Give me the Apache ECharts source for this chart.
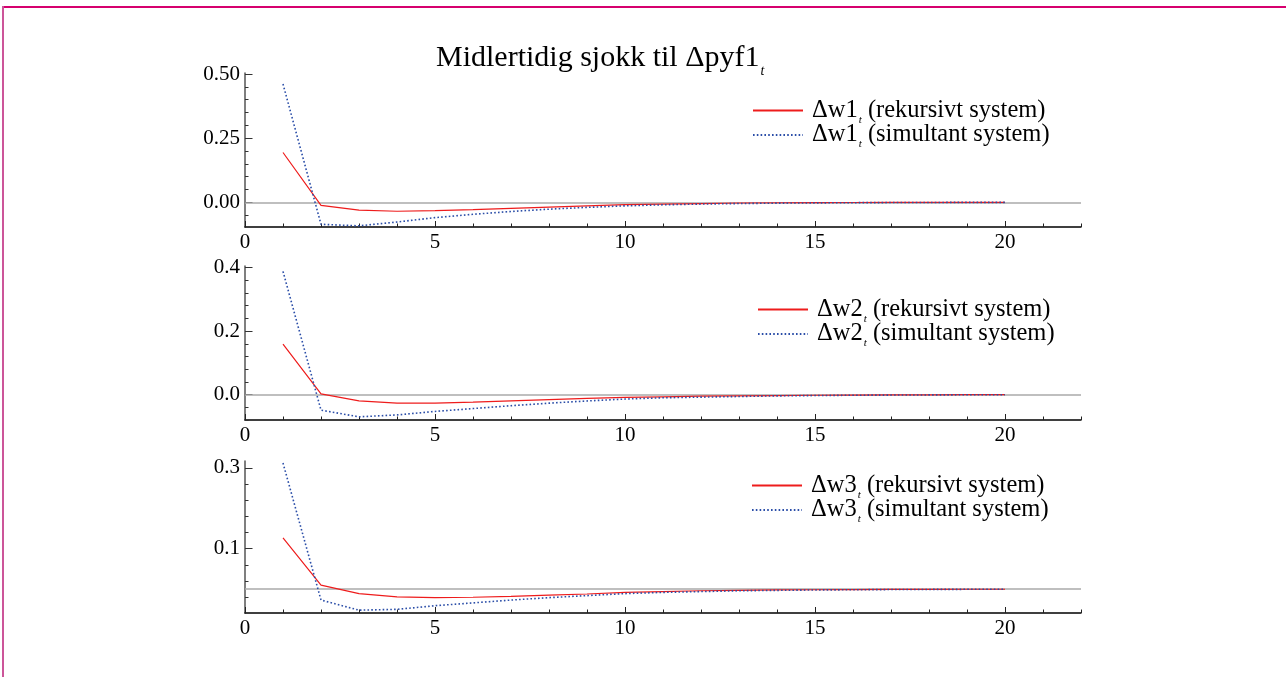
<!DOCTYPE html>
<html>
<head>
<meta charset="utf-8">
<script src="https://cdn.jsdelivr.net/npm/echarts@6/dist/echarts.min.js"></script>
<style>
html,body{margin:0;padding:0;background:#fff;}
#c{width:1286px;height:677px;}
</style>
</head>
<body>
<div id="c"></div>
<script>
// ---- data ----
const periods = [1,2,3,4,5,6,7,8,9,10,11,12,13,14,15,16,17,18,19,20];
const w1Rek = [0.194,-0.012,-0.031,-0.035,-0.033,-0.029,-0.024,-0.019,-0.014,-0.009,-0.007,-0.005,-0.003,-0.002,-0.0015,-0.001,-0.0007,-0.0005,-0.0003,-0.0002];
const w1Sim = [0.461,-0.086,-0.092,-0.077,-0.060,-0.047,-0.036,-0.027,-0.020,-0.014,-0.010,-0.007,-0.005,-0.0035,-0.0025,-0.0017,-0.0012,-0.0008,-0.0005,-0.0003];
const w2Rek = [0.159,0.002,-0.020,-0.027,-0.027,-0.024,-0.020,-0.016,-0.012,-0.009,-0.007,-0.005,-0.004,-0.003,-0.002,-0.0015,-0.001,-0.0007,-0.0004,-0.0002];
const w2Sim = [0.388,-0.049,-0.070,-0.064,-0.053,-0.044,-0.035,-0.027,-0.020,-0.014,-0.010,-0.008,-0.006,-0.004,-0.003,-0.002,-0.0015,-0.001,-0.0006,-0.0003];
const w3Rek = [0.127,0.010,-0.011,-0.019,-0.021,-0.020,-0.018,-0.015,-0.012,-0.008,-0.006,-0.004,-0.003,-0.002,-0.0015,-0.001,-0.0007,-0.0005,-0.0003,-0.0002];
const w3Sim = [0.312,-0.027,-0.052,-0.050,-0.041,-0.034,-0.027,-0.021,-0.016,-0.011,-0.008,-0.006,-0.004,-0.003,-0.002,-0.0015,-0.001,-0.0007,-0.0004,-0.0002];

const xLabelTicks = [0,5,10,15,20];
const xMinorTicks = [0,1,2,3,4,5,6,7,8,9,10,11,12,13,14,15,16,17,18,19,20,21,22];
const y1Labels = [0,0.25,0.5];
const y1Minor = [-0.05,0,0.05,0.1,0.15,0.2,0.25,0.3,0.35,0.4,0.45,0.5];
const y2Labels = [0,0.2,0.4];
const y2Minor = [-0.08,-0.04,0,0.04,0.08,0.12,0.16,0.2,0.24,0.28,0.32,0.36,0.4];
const y3Labels = [0.1,0.3];
const y3Minor = [-0.02,0.02,0.06,0.1,0.14,0.18,0.22,0.26,0.3];

const names = [
  ['Δw1 (rekursivt system)','Δw1 (simultant system)'],
  ['Δw2 (rekursivt system)','Δw2 (simultant system)'],
  ['Δw3 (rekursivt system)','Δw3 (simultant system)']
];
const seriesVals = [[w1Rek,w1Sim],[w2Rek,w2Sim],[w3Rek,w3Sim]];

// ---- layout ----
const FONT = 'Liberation Serif';
const grids = [
  {left:245,right:205,top:73,bottom:450},
  {left:245,right:205,top:266,bottom:257},
  {left:245,right:205,top:461,bottom:64}
];
const yRanges = [[-0.0965,0.504],[-0.08,0.405],[-0.059,0.317]];
const yLab = [y1Labels,y2Labels,y3Labels];
const yMin = [y1Minor,y2Minor,y3Minor];
const yDigits = [2,1,1];
const legendPos = [{left:747,top:93},{left:752,top:292},{left:746,top:468}];

const xAxes = [], yAxes = [], series = [], legends = [];
for (let i=0;i<3;i++){
  xAxes.push({
    type:'value', gridIndex:i, min:0, max:22, position:'bottom',
    axisLine:{show:true,onZero:false,lineStyle:{color:'#000',width:1.5}},
    axisTick:{show:true,inside:true,length:3.5,customValues:xMinorTicks,lineStyle:{color:'#222',width:1}},
    axisLabel:{show:true,customValues:xLabelTicks,margin:5,color:'#000',fontFamily:FONT,fontSize:21},
    splitLine:{show:false}
  });
  xAxes.push({
    type:'value', gridIndex:i, min:0, max:22, position:'bottom', offset:0,
    axisLine:{show:false,onZero:false},
    axisTick:{show:true,inside:true,length:6,customValues:xLabelTicks,lineStyle:{color:'#222',width:1}},
    axisLabel:{show:false}, splitLine:{show:false}
  });
  const d = yDigits[i];
  yAxes.push({
    type:'value', gridIndex:i, min:yRanges[i][0], max:yRanges[i][1], position:'left',
    axisLine:{show:true,onZero:false,lineStyle:{color:'#555',width:1.5}},
    axisTick:{show:true,inside:true,length:3.5,customValues:yMin[i],lineStyle:{color:'#333',width:1}},
    axisLabel:{show:true,customValues:yLab[i],margin:5,color:'#000',fontFamily:FONT,fontSize:21,
      formatter:(v)=>Number(v).toFixed(d)},
    splitLine:{show:false}
  });
  yAxes.push({
    type:'value', gridIndex:i, min:yRanges[i][0], max:yRanges[i][1], position:'left', offset:0,
    axisLine:{show:false,onZero:false},
    axisTick:{show:true,inside:true,length:7.5,customValues:yLab[i],lineStyle:{color:'#333',width:1}},
    axisLabel:{show:false}, splitLine:{show:false}
  });
  const [rek,sim] = seriesVals[i];
  series.push({
    name:names[i][0], type:'line', xAxisIndex:2*i, yAxisIndex:2*i,
    data:periods.map((p,k)=>[p,rek[k]]), symbol:'none', z:3,
    lineStyle:{color:'#ee1c1c',width:1.2,type:'solid'}, itemStyle:{color:'#ee1c1c'},
    markLine:{silent:true,symbol:'none',label:{show:false},z:1,
      lineStyle:{color:'#aaaaaa',width:1.5,type:'solid'},data:[{yAxis:0}]}
  });
  series.push({
    name:names[i][1], type:'line', xAxisIndex:2*i, yAxisIndex:2*i,
    data:periods.map((p,k)=>[p,sim[k]]), symbol:'none', z:4,
    lineStyle:{color:'#2b4ea8',width:1.6,type:[1.6,2.2]}, itemStyle:{color:'#2b4ea8'}
  });
  legends.push({
    data:names[i], orient:'vertical', left:legendPos[i].left, top:legendPos[i].top,
    itemWidth:50, itemHeight:10, itemGap:-3,
    itemStyle:{opacity:0},
    selectedMode:false,
    formatter:(n)=>{
      const m = n.match(/^(Δw\d) (.*)$/);
      return '{m|'+m[1]+'}{s|t}{m| '+m[2]+'}';
    },
    textStyle:{
      fontFamily:FONT, fontSize:24.5, color:'#000', padding:[0,0,0,4],
      rich:{
        m:{fontFamily:FONT,fontSize:24.5,color:'#000',lineHeight:22},
        s:{fontFamily:FONT,fontSize:11,fontStyle:'italic',color:'#000',lineHeight:22,verticalAlign:'bottom',padding:[0,0,-4,1]}
      }
    }
  });
}

const chart = echarts.init(document.getElementById('c'), null, {renderer:'canvas'});
chart.setOption({
  backgroundColor:'#fff',
  animation:false,
  title:{
    text:'{m|Midlertidig sjokk til Δpyf1}{s|t}',
    left:431, top:36,
    textStyle:{
      fontFamily:FONT, fontSize:30, fontWeight:'normal', color:'#000',
      rich:{
        m:{fontFamily:FONT,fontSize:30,color:'#000',lineHeight:34},
        s:{fontFamily:FONT,fontSize:14,fontStyle:'italic',color:'#000',lineHeight:34,verticalAlign:'bottom',padding:[0,0,-3,1]}
      }
    }
  },
  graphic:[
    {type:'rect',shape:{x:2,y:6,width:1284,height:2},style:{fill:'#d6006e'},z:100},
    {type:'rect',shape:{x:2,y:6,width:2,height:671},style:{fill:'#cc5599'},z:100}
  ],
  legend:legends,
  grid:grids,
  xAxis:xAxes,
  yAxis:yAxes,
  series:series
});
</script>
</body>
</html>
